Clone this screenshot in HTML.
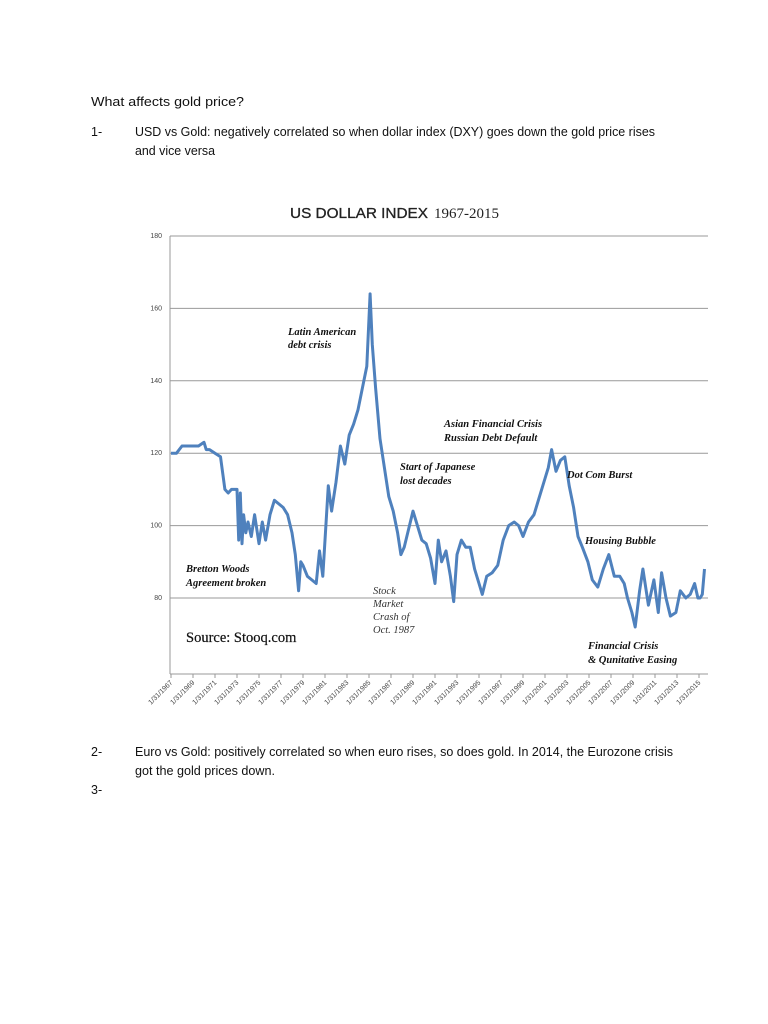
<!DOCTYPE html>
<html><head><meta charset="utf-8"><style>
html,body{margin:0;padding:0;background:#fff;}
svg{display:block;}
.body{font-family:"Liberation Sans",sans-serif;font-size:12.5px;fill:#111;}
.ann{font-family:"Liberation Serif",serif;font-style:italic;font-weight:bold;font-size:10.5px;fill:#111;}
.tick{font-family:"Liberation Sans",sans-serif;font-size:7px;fill:#444;}
</style></head><body>
<svg id="page" width="768" height="1024" viewBox="0 0 768 1024">
<text class="body" x="91" y="106" textLength="153" lengthAdjust="spacingAndGlyphs">What affects gold price?</text>
<text class="body" x="91" y="136">1-</text>
<text class="body" x="135" y="136" textLength="520" lengthAdjust="spacingAndGlyphs">USD vs Gold: negatively correlated so when dollar index (DXY) goes down the gold price rises</text>
<text class="body" x="135" y="155" textLength="80" lengthAdjust="spacingAndGlyphs">and vice versa</text>

<text x="290" y="218" font-family="Liberation Sans,sans-serif" font-size="14.5" fill="#222" stroke="#222" stroke-width="0.3" textLength="138" lengthAdjust="spacingAndGlyphs">US DOLLAR INDEX</text>
<text x="434" y="218" font-family="Liberation Serif,serif" font-size="15" fill="#222">1967-2015</text>

<g id="chart"></g>

<text class="ann" x="288" y="335">Latin American</text>
<text class="ann" x="288" y="348">debt crisis</text>
<text class="ann" x="444" y="427">Asian Financial Crisis</text>
<text class="ann" x="444" y="441">Russian Debt Default</text>
<text class="ann" x="400" y="470">Start of Japanese</text>
<text class="ann" x="400" y="484">lost decades</text>
<text class="ann" x="567" y="478">Dot Com Burst</text>
<text class="ann" x="585" y="544">Housing Bubble</text>
<text class="ann" x="186" y="572">Bretton Woods</text>
<text class="ann" x="186" y="586">Agreement broken</text>
<g font-family="Liberation Serif,serif" font-style="italic" font-size="10.5" fill="#333">
<text x="373" y="594">Stock</text><text x="373" y="607">Market</text><text x="373" y="620">Crash of</text><text x="373" y="633">Oct. 1987</text></g>
<text x="186" y="642" font-family="Liberation Serif,serif" font-size="14.5" fill="#111" stroke="#111" stroke-width="0.2">Source: Stooq.com</text>
<text class="ann" x="588" y="649">Financial Crisis</text>
<text class="ann" x="588" y="663">&amp; Qunitative Easing</text>

<text class="body" x="91" y="756">2-</text>
<text class="body" x="135" y="756" textLength="538" lengthAdjust="spacingAndGlyphs">Euro vs Gold: positively correlated so when euro rises, so does gold. In 2014, the Eurozone crisis</text>
<text class="body" x="135" y="775" textLength="140" lengthAdjust="spacingAndGlyphs">got the gold prices down.</text>
<text class="body" x="91" y="794">3-</text>
</svg>
<script>
const yTicks=[80,100,120,140,160,180];
const xYears=[1967,1969,1971,1973,1975,1977,1979,1981,1983,1985,1987,1989,1991,1993,1995,1997,1999,2001,2003,2005,2007,2009,2011,2013,2015];
const dates=[1967,1967.5,1968,1968.5,1969,1969.5,1970,1970.2,1970.5,1971,1971.5,1971.9,1972.2,1972.5,1973,1973.15,1973.3,1973.45,1973.6,1973.8,1974,1974.3,1974.6,1975,1975.3,1975.6,1976,1976.4,1976.8,1977.2,1977.6,1978,1978.3,1978.6,1978.8,1979,1979.4,1979.8,1980.2,1980.5,1980.8,1981,1981.3,1981.6,1982,1982.4,1982.8,1983.2,1983.6,1984,1984.4,1984.8,1985.1,1985.3,1985.6,1986,1986.4,1986.8,1987.2,1987.6,1987.9,1988.2,1988.6,1989,1989.4,1989.8,1990.2,1990.6,1991,1991.3,1991.6,1992,1992.4,1992.7,1993,1993.4,1993.8,1994.2,1994.6,1995,1995.3,1995.7,1996.2,1996.7,1997.2,1997.7,1998.2,1998.6,1999,1999.5,2000,2000.5,2001,2001.3,2001.6,2002,2002.4,2002.8,2003.2,2003.6,2004,2004.4,2004.9,2005.3,2005.8,2006.3,2006.8,2007.3,2007.8,2008.2,2008.5,2008.9,2009.2,2009.6,2009.9,2010.4,2010.9,2011.3,2011.6,2012,2012.4,2012.9,2013.3,2013.8,2014.2,2014.6,2014.9,2015.1,2015.3,2015.5];
const values=[120,120,122,122,122,122,123,121,121,120,119,110,109,110,110,96,109,95,103,98,101,97,103,95,101,96,103,107,106,105,103,98,92,82,90,89,86,85,84,93,86,96,111,104,112,122,117,125,128,132,138,144,164,150,138,124,116,108,104,98,92,94,99,104,100,96,95,91,84,96,90,93,86,79,92,96,94,94,88,84,81,86,87,89,96,100,101,100,97,101,103,108,113,116,121,115,118,119,111,105,97,94,90,85,83,88,92,86,86,84,80,76,72,82,88,78,85,76,87,80,75,76,82,80,81,84,80,80,81,88,99,95,97];
const svg=document.getElementById('page'), g=document.getElementById('chart');
const NS='http://www.w3.org/2000/svg';
const X0=170,X1=708,YB=674;
const x=d=>171+(d-1967)*11;
const y=v=>598-(v-80)*3.62;
function mk(t,a){const e=document.createElementNS(NS,t);for(const k in a)e.setAttribute(k,a[k]);g.appendChild(e);return e;}
yTicks.forEach(v=>{
 const l=mk('line',{x1:X0,x2:X1,y1:y(v),y2:y(v),stroke:'#999','stroke-width':1});
 
 
 const t=mk('text',{x:X0-8,y:y(v)+2,'text-anchor':'end',class:'tick'});t.textContent=v;
 
 
});
const ax=mk('line',{x1:X0,x2:X1,y1:YB,y2:YB,stroke:'#999'});


const ay=mk('line',{x1:X0,x2:X0,y1:y(180),y2:YB,stroke:'#999'});


xYears.forEach(yr=>{
 const xx=x(yr);
 mk('line',{x1:xx,x2:xx,y1:YB,y2:YB+4,stroke:'#999'});
 const t=mk('text',{x:xx+2,y:YB+9,'text-anchor':'end',class:'tick',transform:`rotate(-45 ${xx+2} ${YB+9})`,'font-size':'8'});
 t.textContent='1/31/'+yr;
 
 
});
const p=mk('polyline',{points:dates.map((d,i)=>x(d).toFixed(1)+','+y(values[i]).toFixed(1)).join(' '),fill:'none',stroke:'#4f81bd','stroke-width':3,'stroke-linejoin':'round'});


</script>
</body></html>
